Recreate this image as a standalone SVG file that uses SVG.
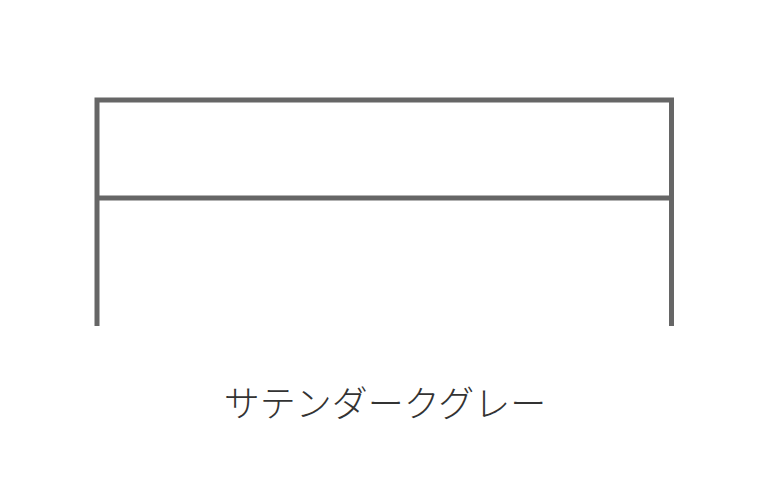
<svg xmlns="http://www.w3.org/2000/svg" width="770" height="499" viewBox="0 0 770 499">
<style>
.frame{fill:none;stroke:#666;stroke-width:5;stroke-linecap:butt;stroke-linejoin:miter}
.label{font-family:"Noto Sans CJK JP","Noto Sans",sans-serif;font-size:36px;font-weight:300;fill:#333;text-anchor:middle}
</style>
<rect width="770" height="499" fill="#fff"/>
<g id="frame">
<path class="frame" d="M97,326 V100 H671.5 V326"/>
<path class="frame" d="M97,198 H671.5"/>
</g>
<g id="label">
<text class="label" x="385" y="417">サテンダークグレー</text>
</g>
</svg>
